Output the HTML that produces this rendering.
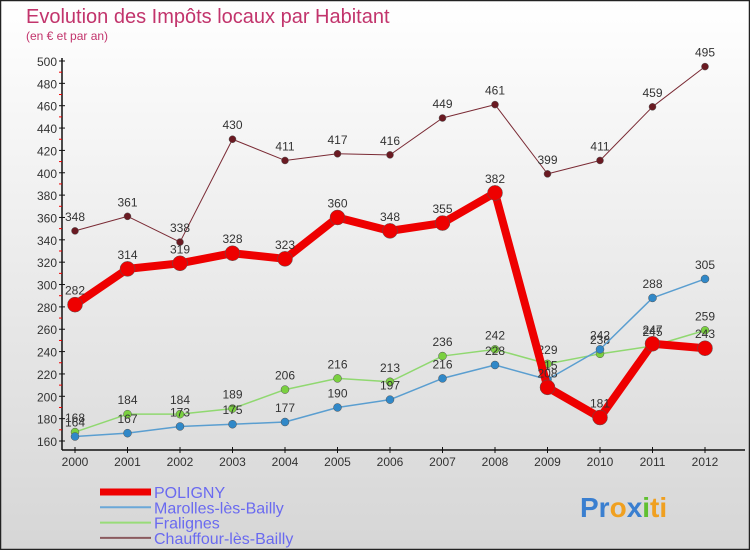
<!DOCTYPE html>
<html><head><meta charset="utf-8"><style>
body{margin:0}
#c{position:relative;width:750px;height:550px;}
</style></head><body>
<div id="c">
<svg id="s" width="750" height="550" xmlns="http://www.w3.org/2000/svg">
<defs><linearGradient id="bg" x1="0" y1="0" x2="0" y2="1"><stop offset="0" stop-color="#ffffff"/><stop offset="1" stop-color="#d6d6d6"/></linearGradient></defs>
<rect x="0.5" y="0.5" width="749" height="549" fill="url(#bg)" stroke="#222" stroke-width="1.5"/>
<text x="26" y="23" font-family="Liberation Sans, sans-serif" font-size="20" fill="#c2346c">Evolution des Impôts locaux par Habitant</text>
<text x="26" y="40" font-family="Liberation Sans, sans-serif" font-size="12" fill="#c2346c">(en € et par an)</text>
<g id="axes"></g><g id="series"></g><g id="legend"></g>
<text x="580" y="517" font-family="Liberation Sans, sans-serif" font-size="28" font-weight="bold"><tspan fill="#3a7fd0">Pr</tspan><tspan fill="#f0a020">o</tspan><tspan fill="#3a7fd0">x</tspan><tspan fill="#60c030">i</tspan><tspan fill="#f0a020">ti</tspan></text>
</svg></div>
<script>
const years=["2000","2001","2002","2003","2004","2005","2006","2007","2008","2009","2010","2011","2012"];
const yTicks=[160,180,200,220,240,260,280,300,320,340,360,380,400,420,440,460,480,500];
const poligny=[282,314,319,328,323,360,348,355,382,208,181,247,243];
const marolles=[164,167,173,175,177,190,197,216,228,215,242,288,305];
const fralignes=[168,184,184,189,206,216,213,236,242,229,238,245,259];
const chauffour=[348,361,338,430,411,417,416,449,461,399,411,459,495];
const NS="http://www.w3.org/2000/svg";
function X(i){return 75+i*52.5;}
function Y(v){return 441-(v-160)*(380/340);}
function mk(tag,attrs,parent,txt){const e=document.createElementNS(NS,tag);for(const k in attrs)e.setAttribute(k,attrs[k]);if(txt!==undefined)e.textContent=txt;parent.appendChild(e);return e;}
const ax=document.getElementById('axes');
let e=mk('line',{x1:62,y1:58,x2:62,y2:450,stroke:'#111','stroke-width':1.5},ax);

e=mk('line',{x1:62,y1:450,x2:745,y2:450,stroke:'#111','stroke-width':1.5},ax);

yTicks.forEach((t,i)=>{const y=Y(t);
 mk('line',{x1:59,y1:y,x2:65,y2:y,stroke:'#111'},ax);
 if(i<yTicks.length-1) mk('line',{x1:59,y1:Y(t+10),x2:62,y2:Y(t+10),stroke:'#e00'},ax);
 e=mk('text',{x:57,y:y+5,'text-anchor':'end','font-family':'Liberation Sans, sans-serif','font-size':12,fill:'#333'},ax,String(t));
 });
years.forEach((yr,i)=>{const x=X(i);
 mk('line',{x1:x,y1:447,x2:x,y2:453,stroke:'#111'},ax);
 e=mk('text',{x:x,y:466,'text-anchor':'middle','font-family':'Liberation Sans, sans-serif','font-size':12,fill:'#333'},ax,yr);
 });
const sg=document.getElementById('series');
function draw(vals,color,w,r,name,dot){
 const g=mk('g',{},sg);
 const p=mk('polyline',{points:vals.map((v,i)=>X(i)+','+Y(v)).join(' '),fill:'none',stroke:color,'stroke-width':w,'stroke-linejoin':'round'},g);
 
 vals.forEach((v,i)=>{const c=mk('circle',{cx:X(i),cy:Y(v),r:r,fill:dot,stroke:'#555','stroke-width':0.5},g);
  
  const t=mk('text',{x:X(i),y:Y(v)-10,'text-anchor':'middle','font-family':'Liberation Sans, sans-serif','font-size':12,fill:'#333'},g,String(v));
  });
}
draw(chauffour,'#7a2a34',1,3.5,'chauffour','#6a1a22');
draw(fralignes,'#90d870',1.5,4,'fralignes','#7ad040');
draw(marolles,'#5a9ed0',1.5,4,'marolles','#3088c8');
draw(poligny,'#ee0000',8,7.5,'poligny','#ee0000');
const lg=document.getElementById('legend');
const items=[['POLIGNY','#ee0000',7],['Marolles-lès-Bailly','#6aa8d8',2],['Fralignes','#98dc78',2],['Chauffour-lès-Bailly','#8a5a5e',2]];
items.forEach((it,i)=>{const y=492+i*15.3;
 const g=mk('g',{},lg);
 mk('line',{x1:100,y1:y,x2:151,y2:y,stroke:it[1],'stroke-width':it[2]},g);
 mk('text',{x:154,y:y+6,'font-family':'Liberation Sans, sans-serif','font-size':16,fill:'#6a6af0'},g,it[0]);});
</script>
</body></html>
